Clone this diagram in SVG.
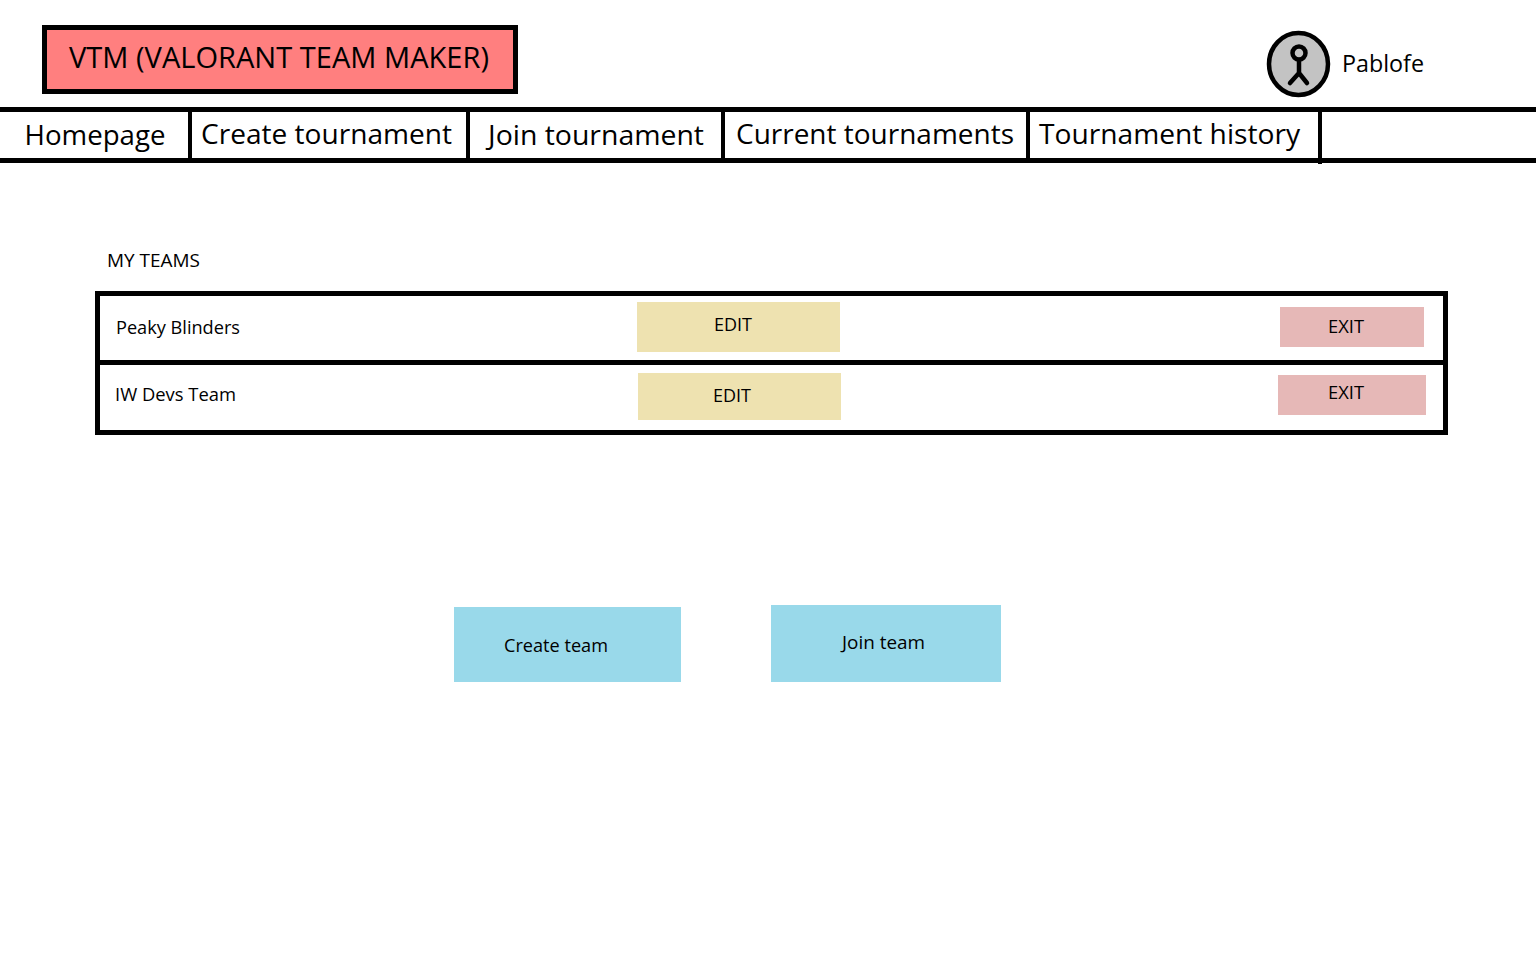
<svg xmlns="http://www.w3.org/2000/svg" width="1536" height="953" viewBox="0 0 1536 953">
<style>
text{font-family:"Open Sans","Noto Sans","Liberation Sans",sans-serif;fill:#000}
.nav{font-size:27px}
.sm{font-size:17.5px}
.ln{stroke:#000;fill:none}
.edit{fill:#eee2b0}
.exit{fill:#e6b8b7}
.blue{fill:#99d9ea}
</style>
<rect width="1536" height="953" fill="#fff"/>
<g id="title"><rect x="44.500" y="27.500" width="471" height="64" fill="#ff7f7f" stroke="#000" stroke-width="5"/>
<text x="69" y="68" font-size="29" textLength="420" lengthAdjust="spacingAndGlyphs">VTM (VALORANT TEAM MAKER)</text></g>
<g id="user"><ellipse cx="1298.500" cy="64" rx="29.500" ry="31" fill="#c3c3c3" stroke="#000" stroke-width="4.500"/>
<circle cx="1299" cy="53" r="6.500" fill="#c3c3c3" stroke="#000" stroke-width="4.500"/>
<path class="ln" stroke-width="4.500" stroke-linecap="round" stroke-linejoin="round" d="M1299 60V73M1299 73L1290 83M1299 73L1307 83"/>
<text x="1342" y="72" font-size="24" textLength="82" lengthAdjust="spacingAndGlyphs">Pablofe</text></g>
<g id="nav">
<path class="ln" stroke-width="5" d="M0 109.500H1536M0 160.500H1536"/>
<path class="ln" stroke-width="4" d="M190 110V160M468 110V160M723 110V160M1028 110V160M1320 110V164"/>
<text class="nav" x="24.500" y="145" textLength="141" lengthAdjust="spacingAndGlyphs">Homepage</text>
<text class="nav" x="201" y="144" textLength="251" lengthAdjust="spacingAndGlyphs">Create tournament</text>
<text class="nav" x="488" y="145" textLength="216" lengthAdjust="spacingAndGlyphs">Join tournament</text>
<text class="nav" x="736" y="144" textLength="278" lengthAdjust="spacingAndGlyphs">Current tournaments</text>
<text class="nav" x="1039" y="144" textLength="261" lengthAdjust="spacingAndGlyphs">Tournament history</text>
</g>
<text class="sm" x="107" y="267" textLength="93" lengthAdjust="spacingAndGlyphs">MY TEAMS</text>
<g id="teams">
<rect x="97.500" y="293.500" width="1348" height="139" fill="#fff" stroke="#000" stroke-width="5"/>
<path class="ln" stroke-width="5" d="M98 362.500H1445"/>
</g>
<g id="row1">
<text class="sm" x="116" y="334" textLength="124" lengthAdjust="spacingAndGlyphs">Peaky Blinders</text>
<rect class="edit" x="637" y="302" width="203" height="50"/>
<text class="sm" x="714" y="331" textLength="38" lengthAdjust="spacingAndGlyphs">EDIT</text>
<rect class="exit" x="1280" y="307" width="144" height="40"/>
<text class="sm" x="1328" y="333" textLength="36" lengthAdjust="spacingAndGlyphs">EXIT</text>
</g>
<g id="row2">
<text class="sm" x="115" y="401" textLength="121" lengthAdjust="spacingAndGlyphs">IW Devs Team</text>
<rect class="edit" x="638" y="373" width="203" height="47"/>
<text class="sm" x="713" y="402" textLength="38" lengthAdjust="spacingAndGlyphs">EDIT</text>
<rect class="exit" x="1278" y="375" width="148" height="40"/>
<text class="sm" x="1328" y="399" textLength="36" lengthAdjust="spacingAndGlyphs">EXIT</text>
</g>
<g id="create-team"><rect class="blue" x="454" y="607" width="227" height="75"/>
<text class="sm" x="504" y="652" textLength="104" lengthAdjust="spacingAndGlyphs">Create team</text></g>
<g id="join-team"><rect class="blue" x="771" y="605" width="230" height="77"/>
<text class="sm" x="842" y="649" textLength="83" lengthAdjust="spacingAndGlyphs">Join team</text></g>
<g id="connectors"></g>
</svg>
